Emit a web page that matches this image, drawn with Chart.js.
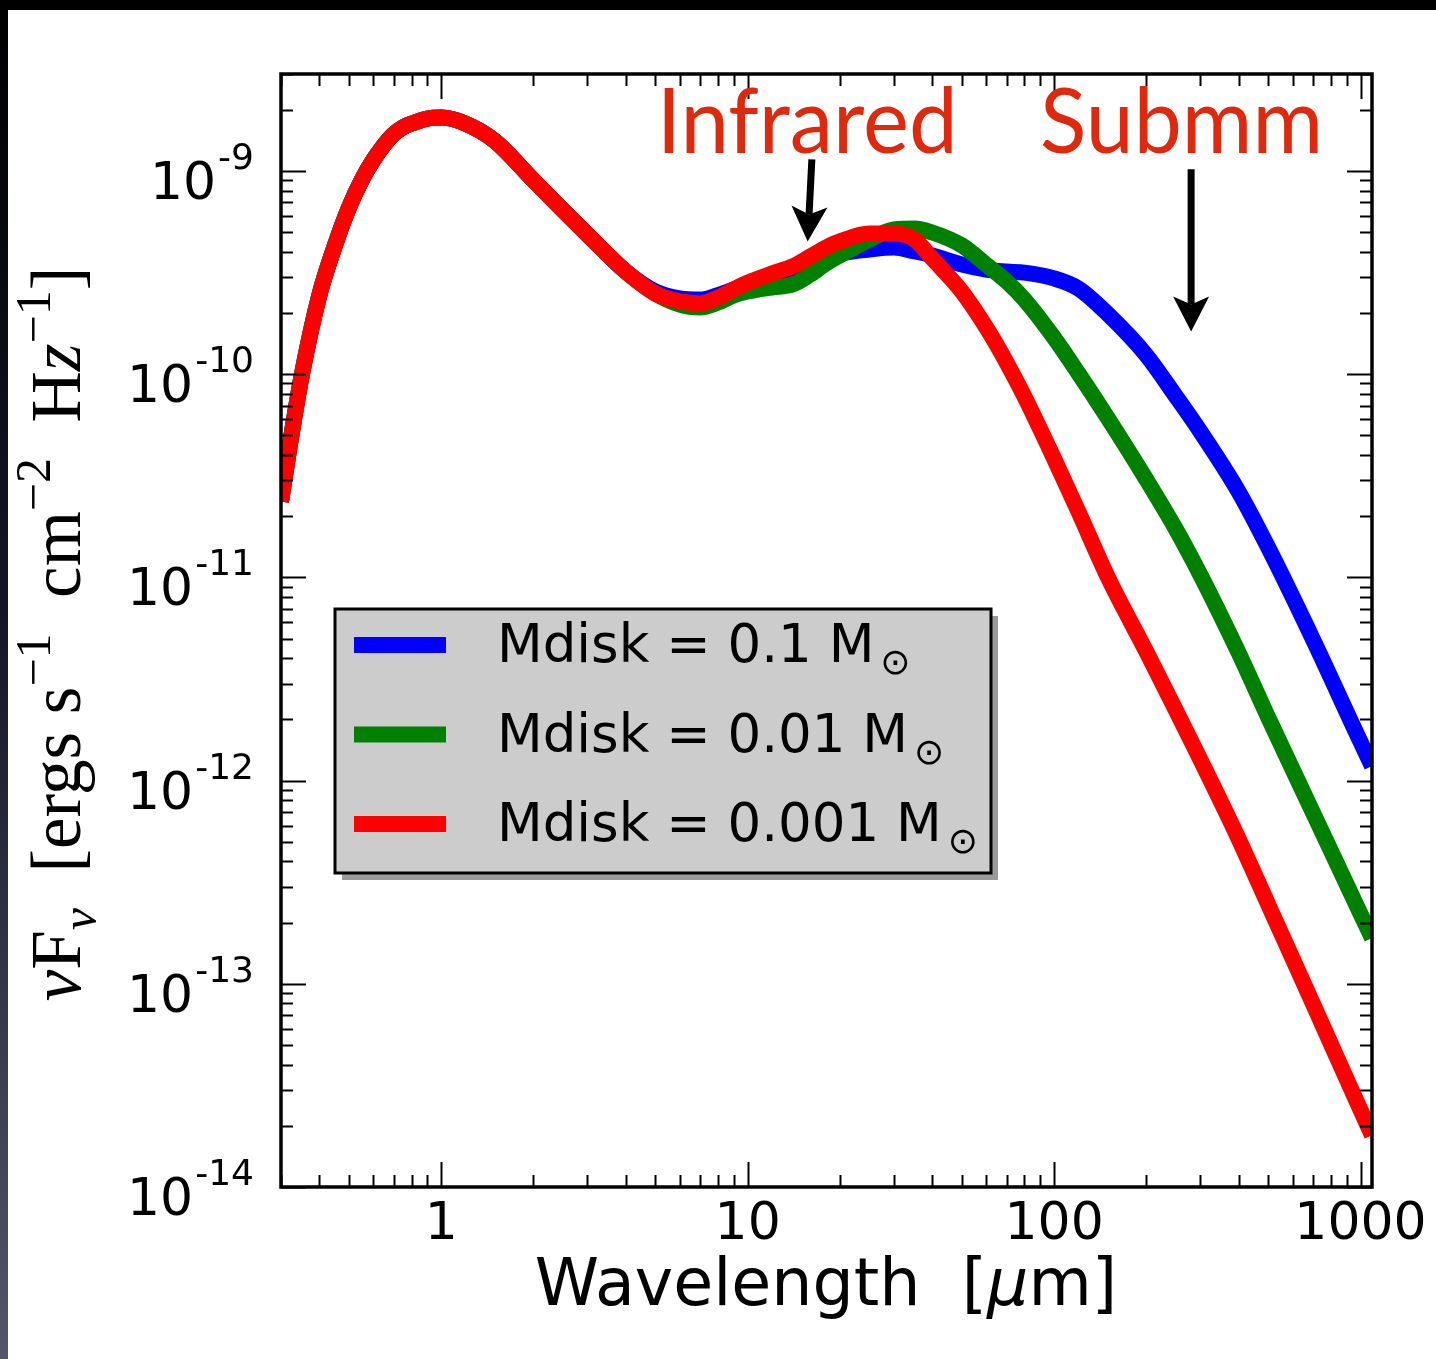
<!DOCTYPE html>
<html>
<head>
<meta charset="utf-8">
<script src="https://cdn.jsdelivr.net/npm/chart.js@4.4.1/dist/chart.umd.min.js"></script>
<style>
  html, body { margin: 0; padding: 0; background: #000; }
  canvas { display: block; }
</style>
</head>
<body>
<canvas id="sed" width="1436" height="1359"></canvas>
<script>
// wavelength grid (micron) and the three SED curves (erg s^-1 cm^-2)
const wavelength = [0.3, 0.32, 0.35, 0.4, 0.45, 0.5, 0.55, 0.6, 0.65, 0.7, 0.75, 0.8, 0.9, 1, 1.2, 1.5, 2, 2.5, 3, 4, 5, 6, 7, 8, 9, 10,
  12, 14, 16, 18, 20, 25, 30, 35, 40, 50, 60, 70, 80, 100, 120, 150, 200, 250, 300, 400, 500, 700, 1000, 1090];

const fluxMdisk01 = [2.36e-11, 4.40e-11, 9.73e-11, 2.44e-10, 4.30e-10, 6.61e-10, 9.02e-10, 1.13e-9, 1.34e-9, 1.52e-9, 1.64e-9, 1.71e-9, 1.81e-9, 1.83e-9,
  1.71e-9, 1.40e-9, 8.98e-10, 6.39e-10, 4.87e-10, 3.20e-10, 2.55e-10, 2.36e-10, 2.33e-10, 2.45e-10, 2.61e-10, 2.80e-10,
  3.05e-10, 3.24e-10, 3.50e-10, 3.75e-10, 3.93e-10, 4.11e-10, 4.20e-10, 4.02e-10, 3.84e-10, 3.46e-10, 3.27e-10, 3.20e-10,
  3.16e-10, 2.96e-10, 2.64e-10, 1.97e-10, 1.24e-10, 7.76e-11, 5.22e-11, 2.64e-11, 1.40e-11, 4.94e-12, 1.55e-12, 1.18e-12];

const fluxMdisk001 = [2.36e-11, 4.40e-11, 9.73e-11, 2.44e-10, 4.30e-10, 6.61e-10, 9.02e-10, 1.13e-9, 1.34e-9, 1.52e-9, 1.64e-9, 1.71e-9, 1.81e-9, 1.83e-9,
  1.71e-9, 1.40e-9, 8.98e-10, 6.39e-10, 4.87e-10, 3.20e-10, 2.49e-10, 2.20e-10, 2.13e-10, 2.25e-10, 2.44e-10, 2.55e-10,
  2.67e-10, 2.76e-10, 3.09e-10, 3.50e-10, 3.84e-10, 4.60e-10, 5.15e-10, 5.21e-10, 4.98e-10, 4.30e-10, 3.46e-10, 2.86e-10,
  2.33e-10, 1.51e-10, 1.01e-10, 6.05e-11, 3.03e-11, 1.72e-11, 1.03e-11, 4.26e-12, 2.04e-12, 6.94e-13, 2.21e-13, 1.68e-13];

const fluxMdisk0001 = [2.36e-11, 4.40e-11, 9.73e-11, 2.44e-10, 4.30e-10, 6.61e-10, 9.02e-10, 1.13e-9, 1.34e-9, 1.52e-9, 1.64e-9, 1.71e-9, 1.81e-9, 1.83e-9,
  1.71e-9, 1.40e-9, 8.98e-10, 6.39e-10, 4.87e-10, 3.20e-10, 2.49e-10, 2.28e-10, 2.23e-10, 2.38e-10, 2.61e-10, 2.82e-10,
  3.13e-10, 3.39e-10, 3.79e-10, 4.20e-10, 4.50e-10, 4.92e-10, 4.92e-10, 4.60e-10, 3.71e-10, 2.55e-10, 1.70e-10, 1.14e-10,
  7.76e-11, 3.84e-11, 2.11e-11, 9.97e-12, 4.31e-12, 2.21e-12, 1.27e-12, 5.17e-13, 2.45e-13, 7.96e-14, 2.39e-14, 1.80e-14];

const seriesLabels = ['Mdisk = 0.1 M', 'Mdisk = 0.01 M', 'Mdisk = 0.001 M'];
const seriesColors = ['#0000ff', '#008000', '#ff0000'];
const xTickValues = [1, 10, 100, 1000];
const xTickLabels = ['1', '10', '100', '1000'];
const yTickExponents = [-9, -10, -11, -12, -13, -14];

const W = 1436, H = 1359;
const SANS = '"DejaVu Sans", sans-serif';

function toPoints(ys) {
  return wavelength.map((w, i) => ({ x: w, y: ys[i] }));
}

function drawArrow(ctx, x0, y0, x1, y1) {
  const len = Math.hypot(x1 - x0, y1 - y0);
  const dx = (x1 - x0) / len, dy = (y1 - y0) / len;
  const px = -dy, py = dx;
  const headLen = 35, notch = 27, half = 18;
  ctx.strokeStyle = '#000';
  ctx.lineWidth = 7;
  ctx.lineCap = 'butt';
  ctx.beginPath();
  ctx.moveTo(x0, y0);
  ctx.lineTo(x1 - dx * notch, y1 - dy * notch);
  ctx.stroke();
  ctx.fillStyle = '#000';
  ctx.beginPath();
  ctx.moveTo(x1, y1);
  ctx.lineTo(x1 - dx * headLen + px * half, y1 - dy * headLen + py * half);
  ctx.lineTo(x1 - dx * notch, y1 - dy * notch);
  ctx.lineTo(x1 - dx * headLen - px * half, y1 - dy * headLen - py * half);
  ctx.closePath();
  ctx.fill();
}

const sedDecor = {
  id: 'sedDecor',
  beforeDraw(chart) {
    const ctx = chart.ctx;
    ctx.save();
    ctx.fillStyle = '#000';
    ctx.fillRect(0, 0, W, H);
    const g = ctx.createLinearGradient(0, 0, 0, H);
    g.addColorStop(0, '#000000');
    g.addColorStop(0.45, '#141628');
    g.addColorStop(1, '#545768');
    ctx.fillStyle = g;
    ctx.fillRect(0, 10, 8, H);
    ctx.fillStyle = '#fff';
    ctx.fillRect(8, 10, W - 8, H - 10);
    ctx.restore();
  },
  afterDatasetsDraw(chart) {
    const ctx = chart.ctx;
    const xs = chart.scales.x, ys = chart.scales.y;
    const a = chart.chartArea;
    ctx.save();

    // ticks pointing inward on all four sides
    ctx.strokeStyle = '#000';
    ctx.lineWidth = 2;
    for (let e = -1; e <= 3; e++) {
      for (let m = 1; m <= 9; m++) {
        const v = m * Math.pow(10, e);
        if (v < xs.min || v > xs.max) continue;
        const px = Math.round(xs.getPixelForValue(v)) + 0.5;
        const len = m === 1 ? 25 : 12;
        ctx.beginPath();
        ctx.moveTo(px, a.bottom); ctx.lineTo(px, a.bottom - len);
        ctx.moveTo(px, a.top); ctx.lineTo(px, a.top + len);
        ctx.stroke();
      }
    }
    for (let e = -14; e <= -9; e++) {
      for (let m = 1; m <= 9; m++) {
        const v = m * Math.pow(10, e);
        if (v < ys.min * 0.999 || v > ys.max * 1.001) continue;
        const py = Math.round(ys.getPixelForValue(v)) + 0.5;
        const len = m === 1 ? 25 : 12;
        ctx.beginPath();
        ctx.moveTo(a.left, py); ctx.lineTo(a.left + len, py);
        ctx.moveTo(a.right, py); ctx.lineTo(a.right - len, py);
        ctx.stroke();
      }
    }

    // frame
    ctx.lineWidth = 3.5;
    ctx.strokeRect(a.left, a.top, a.right - a.left, a.bottom - a.top);

    // x tick labels
    ctx.fillStyle = '#000';
    ctx.font = '52px ' + SANS;
    ctx.textAlign = 'center';
    ctx.textBaseline = 'alphabetic';
    xTickValues.forEach((v, i) => {
      ctx.fillText(xTickLabels[i], xs.getPixelForValue(v), 1239);
    });

    // y tick labels 10^n
    ctx.textAlign = 'left';
    yTickExponents.forEach(ex => {
      const py = ys.getPixelForValue(Math.pow(10, ex));
      ctx.font = '52px ' + SANS;
      const w1 = ctx.measureText('10').width;
      ctx.font = '36px ' + SANS;
      const sup = String(ex);
      const w2 = ctx.measureText(sup).width;
      const x0 = 254 - (w1 + 2 + w2);
      ctx.font = '52px ' + SANS;
      ctx.fillText('10', x0, py + 28);
      ctx.font = '36px ' + SANS;
      ctx.fillText(sup, x0 + w1 + 2, py - 2);
    });

    // x axis title
    ctx.font = '65px ' + SANS;
    const t1 = 'Wavelength  [', t3 = 'm]';
    const w1 = ctx.measureText(t1).width;
    const w3 = ctx.measureText(t3).width;
    ctx.font = 'italic 65px ' + SANS;
    const w2 = ctx.measureText('\u03bc').width;
    let xt = 826 - (w1 + w2 + w3) / 2;
    ctx.font = '65px ' + SANS;
    ctx.fillText(t1, xt, 1305);
    ctx.font = 'italic 65px ' + SANS;
    ctx.fillText('\u03bc', xt + w1, 1305);
    ctx.font = '65px ' + SANS;
    ctx.fillText(t3, xt + w1 + w2, 1305);

    // y axis title, rotated, fitted to its length in the reference
    const parts = [
      { t: '\u03bd', it: true }, { t: 'F' }, { t: '\u03bd', it: true, sub: true },
      { t: '  [ergs s' }, { t: '\u22121', sup: true }, { t: '  cm' }, { t: '\u22122', sup: true },
      { t: '  H' }, { t: 'z', it: true }, { t: '\u22121', sup: true }, { t: ']' }
    ];
    const serif = '"Liberation Serif", "DejaVu Serif", serif';
    const fontFor = (p, s) => (p.it ? 'italic ' : '') + Math.round((p.sub || p.sup) ? s * 0.7 : s) + 'px ' + serif;
    let size = 64;
    let total = 0;
    parts.forEach(p => { ctx.font = fontFor(p, size); total += ctx.measureText(p.t).width; });
    size = size * 732 / total;
    total = 0;
    parts.forEach(p => { ctx.font = fontFor(p, size); p.w = ctx.measureText(p.t).width; total += p.w; });
    ctx.save();
    ctx.translate(80, 634);
    ctx.rotate(-Math.PI / 2);
    let cx = -total / 2;
    parts.forEach(p => {
      ctx.font = fontFor(p, size);
      const dy = p.sub ? size * 0.22 : (p.sup ? -size * 0.42 : 0);
      ctx.fillText(p.t, cx, dy);
      cx += p.w;
    });
    ctx.restore();

    // legend
    const L = { x: 335, y: 609, w: 656, h: 264 };
    ctx.fillStyle = '#9a9a9a';
    ctx.fillRect(L.x + 7, L.y + 7, L.w, L.h);
    ctx.fillStyle = '#cccccc';
    ctx.fillRect(L.x, L.y, L.w, L.h);
    ctx.strokeStyle = '#000';
    ctx.lineWidth = 3;
    ctx.strokeRect(L.x, L.y, L.w, L.h);
    seriesLabels.forEach((lab, i) => {
      const cy = 645 + i * 89.5;
      ctx.strokeStyle = seriesColors[i];
      ctx.lineWidth = 16;
      ctx.lineCap = 'butt';
      ctx.beginPath();
      ctx.moveTo(354, cy); ctx.lineTo(446, cy);
      ctx.stroke();
      ctx.fillStyle = '#000';
      ctx.font = '53px ' + SANS;
      const base = cy + 17;
      ctx.fillText(lab, 497, base);
      const tw = ctx.measureText(lab).width;
      ctx.font = '36px ' + SANS;
      ctx.fillText('\u2299', 497 + tw + 6, base + 12);
    });

    // annotations placed in data coordinates
    ctx.fillStyle = '#e0280c';
    ctx.font = '91px Lato, "Open Sans", sans-serif';
    [['Infrared', 5.05, 301], ['Submm', 90, 283]].forEach(([txt, lam, width]) => {
      const px = xs.getPixelForValue(lam);
      const py = ys.getPixelForValue(1.23e-9);
      const tw = ctx.measureText(txt).width;
      ctx.save();
      ctx.translate(px, py);
      ctx.scale(width / tw, 1);
      ctx.fillText(txt, 0, 0);
      ctx.restore();
    });
    drawArrow(ctx, xs.getPixelForValue(16.2), ys.getPixelForValue(1.14e-9),
      xs.getPixelForValue(15.7), ys.getPixelForValue(4.5e-10));
    drawArrow(ctx, xs.getPixelForValue(280), ys.getPixelForValue(1.02e-9),
      xs.getPixelForValue(280), ys.getPixelForValue(1.62e-10));

    ctx.restore();
  }
};

const seriesFlux = [fluxMdisk01, fluxMdisk001, fluxMdisk0001];

new Chart(document.getElementById('sed'), {
  type: 'line',
  data: {
    datasets: seriesFlux.map((ys, i) => ({
      label: seriesLabels[i],
      data: toPoints(ys),
      borderColor: seriesColors[i],
      borderWidth: 16,
      borderJoinStyle: 'round',
      pointRadius: 0,
      cubicInterpolationMode: 'monotone',
      fill: false,
      clip: 0,
      order: 2 - i
    }))
  },
  options: {
    responsive: false,
    animation: false,
    layout: { padding: { left: 281, top: 74, right: W - 1372, bottom: H - 1187 } },
    plugins: { legend: { display: false }, tooltip: { enabled: false } },
    scales: {
      x: { type: 'logarithmic', min: 0.3, max: 1090, display: false },
      y: { type: 'logarithmic', min: 1e-14, max: 3e-9, display: false }
    }
  },
  plugins: [sedDecor]
});
</script>
</body>
</html>
